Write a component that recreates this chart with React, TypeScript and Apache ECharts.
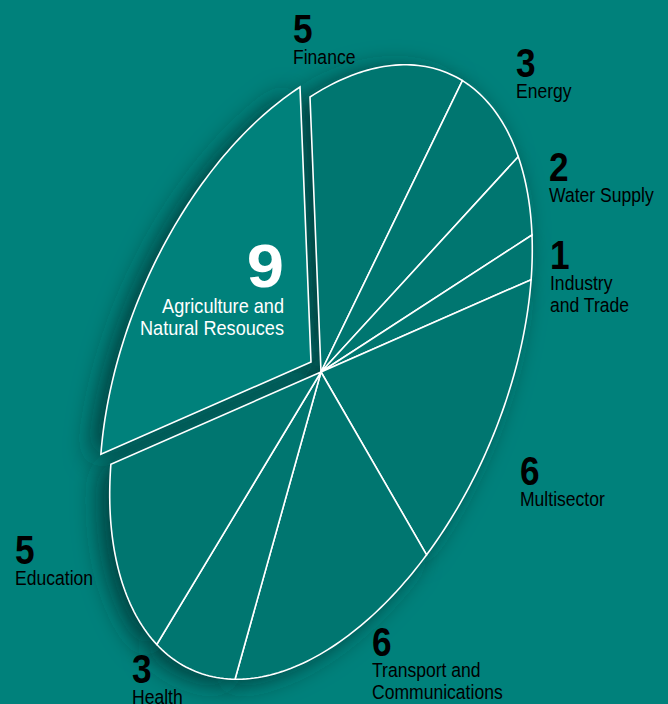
import React, { useEffect, useRef } from 'react';
import * as echarts from 'echarts';

// ---- data ----
const categories = [
  'Finance',
  'Energy',
  'Water Supply',
  'Industry\nand Trade',
  'Multisector',
  'Transport and\nCommunications',
  'Health',
  'Education',
  'Agriculture and\nNatural Resouces',
];
const values = [5, 3, 2, 1, 6, 6, 3, 5, 9];
const explodedIndex = 8;

// ---- layout ----
const CENTER = [321, 372];
const AXIS_A = [-11, -275];
const AXIS_B = [211, -137];
const EXPLODE_OFFSET = [-10, -10];
// [left x (right x for the inside label), digit centre y]
const LABEL_POS = [
  [293, 28],
  [516, 62.5],
  [549, 166],
  [550, 254.5],
  [520, 470.5],
  [372, 641.5],
  [132, 668.5],
  [15, 549],
  [284, 265],
];

const BG = '#00817b';
const SLICE = '#007670';
const FONT = "'Liberation Sans', Arial, sans-serif";
const SQUEEZE = 0.9;

const total = values.reduce((a, b) => a + b, 0);

function slicePoints(i: number, v: number): number[][] {
  let start = 0;
  for (let k = 0; k < i; k++) start += values[k];
  const a0 = (start / total) * Math.PI * 2;
  const a1 = ((start + v) / total) * Math.PI * 2;
  const off = i === explodedIndex ? EXPLODE_OFFSET : [0, 0];
  const cx = CENTER[0] + off[0];
  const cy = CENTER[1] + off[1];
  const pts: number[][] = [[cx, cy]];
  const n = Math.max(8, Math.ceil(v * 8));
  for (let k = 0; k <= n; k++) {
    const p = a0 + ((a1 - a0) * k) / n;
    const c = Math.cos(p);
    const s = Math.sin(p);
    pts.push([cx + AXIS_A[0] * c + AXIS_B[0] * s, cy + AXIS_A[1] * c + AXIS_B[1] * s]);
  }
  return pts;
}

export default function App() {
  const ref = useRef<HTMLDivElement>(null);
  useEffect(() => {
    document.body.style.margin = '0';
    const chart = echarts.init(ref.current!, null, { renderer: 'svg' });
    const data = values.map((v, i) => ({ value: v, name: categories[i] }));

    const graphics: any[] = [];
    values.forEach((v, i) => {
      const [x, y] = LABEL_POS[i];
      const inside = i === explodedIndex;
      const lines = categories[i].split('\n');
      graphics.push({
        type: 'text',
        z: 100,
        x,
        y: y + 1,
        scaleX: inside ? 1.08 : 0.88,
        style: {
          text: String(v),
          fill: inside ? '#ffffff' : '#000000',
          font: `bold ${inside ? 62 : 40}px ${FONT}`,
          align: inside ? 'right' : 'left',
          verticalAlign: 'middle',
        },
      });
      lines.forEach((line, j) => {
        graphics.push({
          type: 'text',
          z: 100,
          x,
          y: y + (inside ? 40.5 : 28) + j * 21.5 + 1,
          scaleX: inside ? 0.93 : SQUEEZE,
          style: {
            text: line,
            fill: inside ? '#ffffff' : '#000000',
            font: `19.5px ${FONT}`,
            align: inside ? 'right' : 'left',
            verticalAlign: 'middle',
          },
        });
      });
    });

    chart.setOption({
      animation: false,
      backgroundColor: BG,
      series: [
        {
          type: 'custom',
          coordinateSystem: 'none',
          silent: true,
          z: 1,
          data,
          renderItem: (params: any, api: any) => ({
            type: 'polygon',
            shape: { points: slicePoints(params.dataIndex, api.value(0)) },
            style: {
              fill: params.dataIndex === explodedIndex ? BG : SLICE,
              shadowBlur: 26,
              shadowColor: 'rgba(0,40,38,0.75)',
              shadowOffsetX: -10,
              shadowOffsetY: 5,
            },
          }),
        },
        {
          type: 'custom',
          coordinateSystem: 'none',
          silent: true,
          z: 2,
          data,
          renderItem: (params: any, api: any) => ({
            type: 'polygon',
            shape: { points: slicePoints(params.dataIndex, api.value(0)) },
            style: {
              fill: params.dataIndex === explodedIndex ? BG : SLICE,
              stroke: '#ffffff',
              lineWidth: 1.6,
              lineJoin: 'miter',
            },
          }),
        },
      ],
      graphic: graphics,
    });
    return () => chart.dispose();
  }, []);
  return <div ref={ref} style={{ width: 668, height: 704 }} />;
}
